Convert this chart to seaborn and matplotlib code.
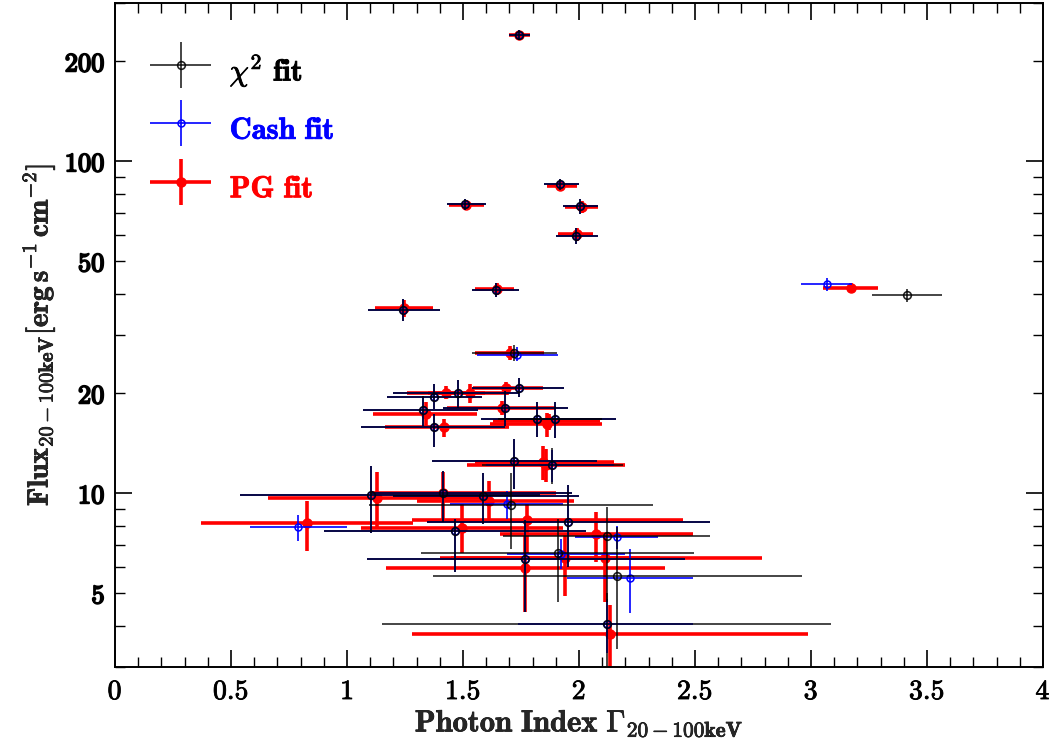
import numpy as np
import matplotlib
matplotlib.use("Agg")
import matplotlib.pyplot as plt
import matplotlib.patheffects as pe
import seaborn as sns
from matplotlib.ticker import FixedLocator, FixedFormatter
from matplotlib.legend_handler import HandlerErrorbar

# ---------------- data ----------------
# chi^2 fit
chi_x   = [1.741, 1.918, 1.509, 2.004, 1.987, 1.642, 1.241, 3.414, 1.720, 1.741,
           1.375, 1.478, 1.328, 1.375, 1.681, 1.819, 1.897, 1.720, 1.883, 1.103,
           1.414, 1.586, 1.707, 1.466, 1.953, 1.767, 1.909, 2.120, 2.164, 2.120]
chi_xlo = [1.70, 1.85, 1.43, 1.93, 1.90, 1.54, 1.09, 3.263, 1.539, 1.539,
           1.172, 1.20, 1.069, 1.06, 1.414, 1.578, 1.65, 1.366, 1.58, 0.539,
           1.10, 1.20, 1.095, 0.90, 1.345, 1.086, 1.319, 1.672, 1.371, 1.151]
chi_xhi = [1.79, 2.00, 1.60, 2.08, 2.08, 1.74, 1.40, 3.565, 1.905, 1.935,
           1.582, 1.74, 1.565, 1.68, 1.953, 2.159, 2.10, 2.078, 2.19, 1.83,
           1.97, 2.00, 2.319, 2.03, 2.565, 2.457, 2.496, 2.565, 2.96, 3.086]
chi_y   = [240, 85.3, 74.2, 73.2, 59.8, 40.9, 35.6, 39.5, 26.4, 20.8,
           19.5, 20.0, 17.8, 15.8, 18.1, 16.8, 16.8, 12.5, 12.2, 9.86,
           10.0, 9.8, 9.2, 7.68, 8.2, 6.33, 6.6, 7.42, 5.62, 4.03]
chi_ylo = [232, 82, 71.5, 69.5, 56.5, 39, 33, 37.8, 25, 19.5,
           17.9, 18.1, 16.0, 13.8, 16.0, 14.8, 14.7, 10.3, 10.7, 7.6,
           8.2, 8.1, 6.8, 5.8, 6.0, 4.4, 4.7, 4.7, 3.4, 2.5]
chi_yhi = [248, 88.5, 77, 77, 63, 43, 38.5, 41.3, 28, 22.3,
           21.3, 22.0, 19.7, 17.4, 20.3, 18.8, 18.8, 14.6, 13.7, 12.1,
           11.7, 11.5, 11.5, 8.4, 10.6, 8.3, 8.4, 9.1, 7.9, 5.0]

# Cash fit
cash_x   = [1.741, 1.918, 1.509, 2.004, 1.987, 1.642, 1.241, 3.069, 1.733, 1.741,
            1.375, 1.478, 1.328, 1.375, 1.681, 1.819, 1.897, 1.720, 1.883, 1.103,
            1.414, 1.586, 1.690, 0.789, 1.466, 1.953, 1.767, 1.922, 2.164, 2.220, 2.120]
cash_xlo = [1.70, 1.85, 1.43, 1.93, 1.90, 1.54, 1.09, 2.957, 1.56, 1.539,
            1.172, 1.20, 1.069, 1.06, 1.414, 1.578, 1.65, 1.366, 1.60, 0.539,
            1.10, 1.20, 1.444, 0.582, 0.90, 1.345, 1.086, 1.69, 1.983, 1.948, 1.737]
cash_xhi = [1.79, 2.00, 1.60, 2.08, 2.08, 1.74, 1.40, 3.177, 1.91, 1.935,
            1.582, 1.74, 1.565, 1.68, 1.953, 2.159, 2.10, 2.078, 2.15, 1.83,
            1.97, 2.00, 1.931, 1.00, 2.03, 2.565, 2.457, 2.20, 2.34, 2.49, 2.49]
cash_y   = [240, 85.3, 74.2, 73.2, 59.8, 40.9, 35.6, 42.6, 26.2, 20.8,
            19.5, 20.0, 17.8, 15.8, 18.1, 16.8, 16.8, 12.5, 12.2, 9.86,
            10.0, 9.8, 9.27, 7.90, 7.68, 8.2, 6.33, 6.55, 7.37, 5.58, 4.03]
cash_ylo = [232, 82, 71.5, 69.5, 56.5, 39, 33, 40.8, 25, 19.5,
            17.9, 18.1, 16.0, 13.8, 16.0, 14.8, 14.7, 10.3, 10.8, 7.6,
            8.2, 8.1, 8.4, 7.2, 5.8, 6.0, 4.4, 5.9, 6.8, 4.35, 3.3]
cash_yhi = [248, 88.5, 77, 77, 63, 43, 38.5, 44.5, 27.6, 22.3,
            21.3, 22.0, 19.7, 17.4, 20.3, 18.8, 18.8, 14.6, 13.5, 12.1,
            11.7, 11.5, 10.2, 8.6, 8.4, 10.6, 8.3, 7.3, 8.0, 6.8, 4.8]

# PG fit
pg_x   = [1.741, 1.920, 1.515, 2.015, 1.990, 1.645, 1.245, 3.172, 1.703, 1.685,
          1.427, 1.530, 1.340, 1.418, 1.668, 1.862, 1.870, 1.858, 1.845, 1.129,
          1.414, 1.612, 1.776, 0.828, 1.496, 1.767, 1.940, 2.073, 2.112, 2.134]
pg_xlo = [1.70, 1.86, 1.44, 1.94, 1.91, 1.55, 1.12, 3.05, 1.55, 1.543,
          1.26, 1.35, 1.112, 1.164, 1.43, 1.616, 1.63, 1.517, 1.55, 0.66,
          1.10, 1.30, 1.28, 0.371, 1.06, 1.168, 1.45, 1.66, 1.40, 1.28]
pg_xhi = [1.79, 1.99, 1.59, 2.08, 2.06, 1.72, 1.37, 3.29, 1.85, 1.845,
          1.594, 1.70, 1.56, 1.70, 1.90, 2.10, 2.09, 2.198, 2.15, 1.60,
          1.90, 1.98, 2.45, 1.284, 1.93, 2.37, 2.35, 2.49, 2.789, 2.987]
pg_y   = [240, 84.3, 74.0, 73.0, 60.3, 41.3, 36.1, 41.7, 26.4, 20.8,
          20.1, 20.0, 17.4, 15.8, 18.1, 16.2, 16.5, 12.2, 12.4, 9.7,
          10.0, 9.5, 8.29, 8.12, 7.85, 5.98, 6.37, 7.52, 6.37, 3.76]
pg_ylo = [233, 81.5, 71.5, 70, 57.5, 39.5, 34, 40.5, 25.2, 19.8,
          19.2, 18.7, 16.0, 14.8, 17.2, 14.8, 15.5, 10.8, 11.0, 7.9,
          8.3, 8.3, 6.6, 6.7, 6.6, 4.4, 4.9, 6.2, 4.7, 2.5]
pg_yhi = [247, 87, 76.5, 76, 63, 43, 38.3, 43, 27.8, 21.7,
          21.1, 21.4, 18.8, 16.8, 19.0, 17.5, 17.3, 13.6, 13.9, 11.6,
          11.6, 10.9, 9.3, 9.5, 9.3, 7.5, 7.5, 8.8, 7.6, 4.6]

labels = [r"$\chi^2$ $\mathbf{fit}$", r"$\mathbf{Cash\ fit}$", r"$\mathbf{PG\ fit}$"]
colors = ["black", "blue", "red"]
xtick_vals = [0, 0.5, 1, 1.5, 2, 2.5, 3, 3.5, 4]
xtick_text = ["0", "0.5", "1", "1.5", "2", "2.5", "3", "3.5", "4"]
ytick_labelled = {5: "5", 20: "20", 50: "50", 200: "200"}

# ---------------- style ----------------
sns.set_theme(style="ticks")
plt.rcParams["mathtext.fontset"] = "cm"
plt.rcParams["font.family"] = ["DejaVu Serif"]

fig = plt.figure(figsize=(10.53, 7.42), dpi=100)
ax = fig.add_axes([115/1053, 75/742, 928/1053, 664/742])

def err(v, lo, hi):
    v, lo, hi = map(np.asarray, (v, lo, hi))
    return np.vstack([v - lo, hi - v])

h_pg = ax.errorbar(pg_x, pg_y, xerr=err(pg_x, pg_xlo, pg_xhi), yerr=err(pg_y, pg_ylo, pg_yhi),
                   fmt="o", color="red", ms=6.5, mec="red", mfc="red", elinewidth=2.6,
                   capsize=0, zorder=2)
h_cash = ax.errorbar(cash_x, cash_y, xerr=err(cash_x, cash_xlo, cash_xhi),
                     yerr=err(cash_y, cash_ylo, cash_yhi),
                     fmt="o", color="blue", ms=5, mfc="none", mec="blue", mew=1.1,
                     elinewidth=1.2, capsize=0, zorder=3)
h_chi = ax.errorbar(chi_x, chi_y, xerr=err(chi_x, chi_xlo, chi_xhi), yerr=err(chi_y, chi_ylo, chi_yhi),
                    fmt="o", color="black", ms=5.5, mfc="none", mec="black", mew=1.2,
                    elinewidth=1.2, capsize=0, zorder=4, alpha=0.85)

ax.set_yscale("log")
ax.set_xlim(0, 4)
ax.set_ylim(3, 300)

# ticks
ax.xaxis.set_major_locator(FixedLocator(xtick_vals))
ax.xaxis.set_minor_locator(FixedLocator(np.arange(0, 4.01, 0.1)))
ax.set_xticklabels([r"$\mathbf{%s}$" % t for t in xtick_text])
ax.yaxis.set_major_locator(FixedLocator([10, 100]))
yminor = [3, 4, 5, 6, 7, 8, 9, 20, 30, 40, 50, 60, 70, 80, 90, 200, 300]
ax.yaxis.set_minor_locator(FixedLocator(yminor))
ax.yaxis.set_major_formatter(FixedFormatter([r"$\mathbf{10}$", r"$\mathbf{100}$"]))
ax.yaxis.set_minor_formatter(FixedFormatter(
    [r"$\mathbf{%s}$" % ytick_labelled[v] if v in ytick_labelled else "" for v in yminor]))

ax.tick_params(axis="both", which="both", direction="in", top=True, right=True, colors="black")
ax.tick_params(axis="x", which="major", length=12, width=1.2, labelsize=20, pad=8)
ax.tick_params(axis="x", which="minor", length=7, width=1.0)
ax.tick_params(axis="y", which="major", length=12, width=1.2, labelsize=19, pad=7)
ax.tick_params(axis="y", which="minor", length=7, width=1.0, labelsize=19, pad=7)
for s in ax.spines.values():
    s.set_linewidth(1.4)
    s.set_color("black")

bold_y = [pe.withStroke(linewidth=1.3, foreground="black")]
bold_x = [pe.withStroke(linewidth=0.6, foreground="black")]
for lbl in ax.get_yticklabels(which="both"):
    lbl.set_path_effects(bold_y)
for lbl in ax.get_xticklabels():
    lbl.set_path_effects(bold_x)

xl = ax.set_xlabel(r"$\mathbf{Photon\ Index\ \Gamma_{20-100keV}}$", fontsize=22, labelpad=2)
yl = ax.set_ylabel(r"$\mathbf{Flux_{20-100keV}[erg\,s^{-1}\,cm^{-2}]}$", fontsize=21, labelpad=6)
xl.set_path_effects([pe.withStroke(linewidth=0.5, foreground="black")])
yl.set_path_effects([pe.withStroke(linewidth=0.5, foreground="black")])

leg = ax.legend([h_chi, h_cash, h_pg], labels, loc="upper left", bbox_to_anchor=(0.005, 0.972),
                frameon=False, fontsize=22, handlelength=2.2, handleheight=1.8,
                labelspacing=0.5, handletextpad=0.5, labelcolor=colors,
                handler_map={type(h_chi): HandlerErrorbar(xerr_size=1.0, yerr_size=0.75)})
for t, c in zip(leg.get_texts(), colors):
    t.set_path_effects([pe.withStroke(linewidth=0.6, foreground=c)])

fig.savefig("out.png", dpi=100)
